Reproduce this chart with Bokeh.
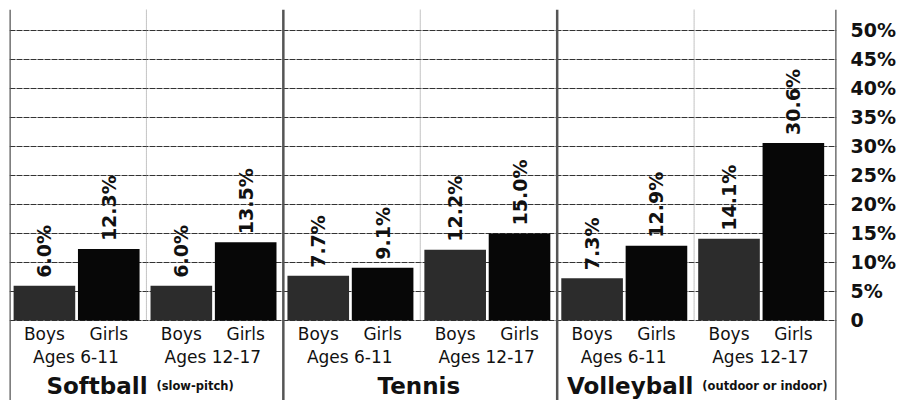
from math import pi
from bokeh.plotting import figure
from bokeh.models import Range1d, FixedTicker, ColumnDataSource
from bokeh.core.properties import value
from bokeh.embed import file_html
from bokeh.resources import INLINE

# ---- data ----
sports = ["Softball", "Tennis", "Volleyball"]
sport_notes = ["(slow-pitch)", "", "(outdoor or indoor)"]
age_groups = ["Ages 6-11", "Ages 12-17"]
genders = ["Boys", "Girls"]
softball = [6.0, 12.3, 6.0, 13.5]     # Boys 6-11, Girls 6-11, Boys 12-17, Girls 12-17
tennis = [7.7, 9.1, 12.2, 15.0]
volleyball = [7.3, 12.9, 14.1, 30.6]
tick_values = [0, 5, 10, 15, 20, 25, 30, 35, 40, 45, 50]
tick_labels = ["0", "5%", "10%", "15%", "20%", "25%", "30%", "35%", "40%", "45%", "50%"]

series = [softball, tennis, volleyball]

FONT = "DejaVu Sans"
BOY_COLOR = "#2c2c2c"
GIRL_COLOR = "#070707"
Y_MIN, Y_MAX = -13.79, 53.6
X_MAX = 12.08

# ---- build bar table ----
xs, tops, colors, labels, glabels = [], [], [], [], []
for s, vals in enumerate(series):
    for a in range(len(age_groups)):
        for g in range(len(genders)):
            v = vals[a * 2 + g]
            xs.append(4 * s + 2 * a + (0.51 if g == 0 else 1.45))
            tops.append(v)
            colors.append(BOY_COLOR if g == 0 else GIRL_COLOR)
            labels.append(f"{v:.1f}%")
            glabels.append(genders[g])

src = ColumnDataSource(dict(x=xs, top=tops, color=colors, label=labels, glabel=glabels))

p = figure(frame_width=827, frame_height=391,
           x_range=Range1d(0, X_MAX), y_range=Range1d(Y_MIN, Y_MAX),
           y_axis_location="right", x_axis_location=None,
           output_backend="svg", toolbar_location=None,
           min_border_left=9, min_border_top=9, min_border_bottom=0, min_border_right=60)
p.outline_line_color = None
p.background_fill_color = "white"
p.xgrid.visible = False

# y axis on the right
p.yaxis.ticker = FixedTicker(ticks=tick_values)
p.yaxis.major_label_overrides = {t: l for t, l in zip(tick_values, tick_labels)}
p.yaxis.axis_line_color = None
p.yaxis.major_tick_line_color = None
p.yaxis.minor_tick_line_color = None
p.yaxis.major_label_text_font = FONT
p.yaxis.major_label_text_font_style = "bold"
p.yaxis.major_label_text_font_size = "19px"
p.yaxis.major_label_text_color = "#111111"
p.yaxis.major_label_standoff = 8

p.ygrid.grid_line_color = "#333333"
p.ygrid.grid_line_dash = "6 1"
p.ygrid.grid_line_width = 1

# separators
sep_x = [0, 4, 8, X_MAX]
p.segment(x0=sep_x, x1=sep_x, y0=[Y_MIN] * 4, y1=[Y_MAX] * 4,
          line_color="#555555", line_width=2.5)
age_x = [2, 6, 10]
p.segment(x0=age_x, x1=age_x, y0=[0] * 3, y1=[Y_MAX] * 3,
          line_color="#888888", line_width=1, line_dash="1 1")

# bars
p.vbar(x="x", top="top", bottom=0, width=0.9, source=src,
       fill_color="color", line_color=None)

# value labels
p.text(x="x", y="top", text="label", source=src, angle=pi / 2,
       text_align="left", text_baseline="middle", y_offset=-8,
       text_font=value(FONT), text_font_style="bold",
       text_font_size="19px", text_color="#111111")

# gender labels
p.text(x="x", y=-2.35, text="glabel", source=src,
       text_align="center", text_baseline="alphabetic",
       text_font=value(FONT), text_font_size="17px", text_color="#111111")

# age labels
age_xs, age_txt = [], []
for s in range(len(sports)):
    for a in range(len(age_groups)):
        age_xs.append(4 * s + 2 * a + 0.97)
        age_txt.append(age_groups[a])
p.text(x=age_xs, y=[-6.3] * len(age_xs), text=age_txt,
       text_align="center", text_baseline="alphabetic",
       text_font=value(FONT), text_font_size="17px", text_color="#111111")

# sport names
main_x = [2.016, 5.98, 9.99]
main_align = ["right", "center", "right"]
for s in range(len(sports)):
    p.text(x=[main_x[s]], y=[-11.25], text=[sports[s]],
           text_align=main_align[s], text_baseline="alphabetic",
           text_font=value(FONT), text_font_style="bold",
           text_font_size="23px", text_color="#111111")
    if sport_notes[s]:
        p.text(x=[main_x[s] + 0.13], y=[-11.25], text=[sport_notes[s]],
               text_align="left", text_baseline="alphabetic",
               text_font=value(FONT), text_font_style="bold",
               text_font_size="11.5px", text_color="#111111")

open("out.html", "w").write(file_html(p, INLINE))
